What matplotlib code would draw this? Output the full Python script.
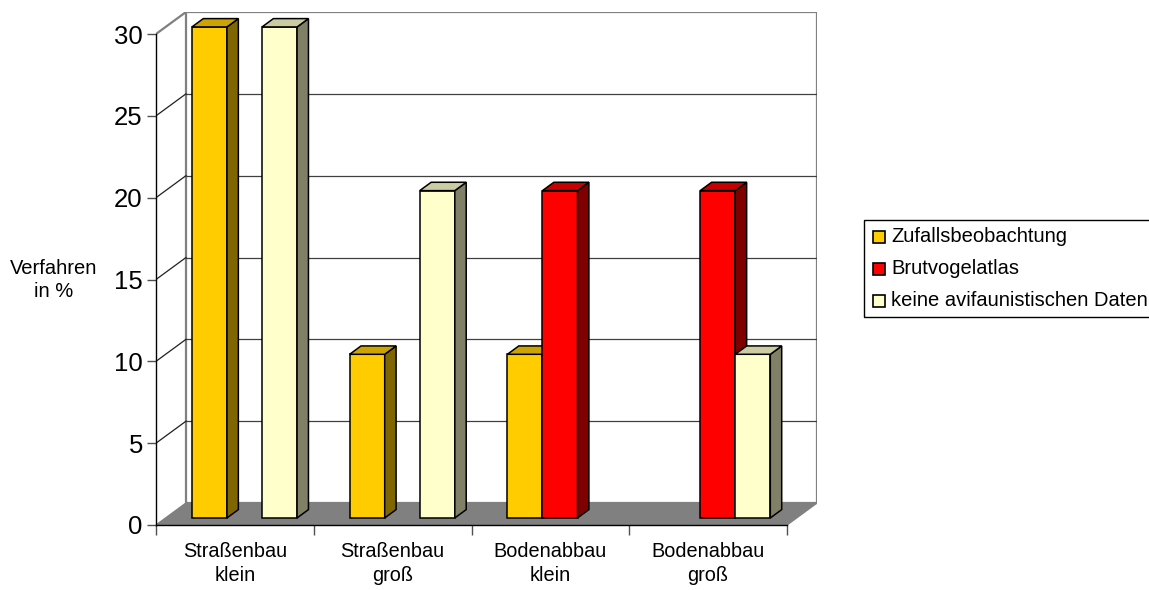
import matplotlib
matplotlib.use("Agg")
import matplotlib.pyplot as plt
from matplotlib.patches import Polygon, Rectangle

plt.rcParams['font.family'] = ['Liberation Sans', 'DejaVu Sans']

categories = ["Straßenbau\nklein", "Straßenbau\ngroß", "Bodenabbau\nklein", "Bodenabbau\ngroß"]
series_names = ["Zufallsbeobachtung", "Brutvogelatlas", "keine avifaunistischen Daten"]
zufall = [30, 10, 10, 0]
brut = [0, 0, 20, 20]
keine = [30, 20, 0, 10]
series_values = [zufall, brut, keine]
y_ticks = [0, 5, 10, 15, 20, 25, 30]
y_label = "Verfahren\nin %"

front_cols = ["#FFCC00", "#FF0000", "#FFFFCC"]
top_cols = ["#CCA300", "#C80000", "#CCCCA3"]
side_cols = ["#806600", "#800000", "#808066"]

W, H = 1149, 590
fig = plt.figure(figsize=(W / 100, H / 100), dpi=100)

px_left, px_right, px_bottom, px_top = 156, 817, 525, 12
ymax = 30
cat_px = (787 - 156) / 4.0
val_px = (525 - 34) / 30.0
DX = 30 / cat_px
DY = 22 / val_px

ax = fig.add_axes([px_left / W, (H - px_bottom) / H, (px_right - px_left) / W, (px_bottom - px_top) / H])
ax.set_xlim(0, 4 + DX)
ax.set_ylim(0, ymax + DY)
for s in ["top", "right"]:
    ax.spines[s].set_visible(False)
ax.spines["left"].set_bounds(0, ymax)
ax.spines["bottom"].set_bounds(0, 4)
ax.spines["left"].set_linewidth(1.0)
ax.spines["bottom"].set_linewidth(1.0)
ax.patch.set_alpha(0)

grey = "#808080"
ax.add_patch(Polygon([(0, 0), (DX, DY), (DX, ymax + DY), (0, ymax)], closed=True,
                     facecolor="white", edgecolor="none", zorder=0))
ax.add_patch(Rectangle((DX, DY), 4, ymax, facecolor="white", edgecolor=grey, lw=1.6, zorder=0.5))
ax.plot([0, DX], [ymax, ymax + DY], color=grey, lw=1.6, zorder=0.6, solid_capstyle="butt")
for v in y_ticks[1:-1]:
    ax.plot([DX, 4 + DX], [v + DY, v + DY], color="#404040", lw=0.9, zorder=0.7)
    ax.plot([0, DX], [v, v + DY], color="#202020", lw=0.9, zorder=0.7)
ax.add_patch(Polygon([(0, 0), (4, 0), (4 + DX, DY), (DX, DY)], closed=True,
                     facecolor=grey, edgecolor=grey, lw=1.0, zorder=0.8))

w = 1 / 4.5
f0 = 0.32
bd = 0.38
z = 2
for i in range(len(categories)):
    for j, vals in enumerate(series_values):
        v = vals[i]
        if v <= 0:
            continue
        x0 = i + 0.75 * w + j * w + f0 * DX
        yb = f0 * DY
        ddx, ddy = bd * DX, bd * DY
        ax.bar(x0, v, width=w, bottom=yb, align="edge", color=front_cols[j],
               edgecolor="black", lw=1.1, zorder=z)
        ax.add_patch(Polygon([(x0 + w, yb), (x0 + w + ddx, yb + ddy), (x0 + w + ddx, yb + v + ddy), (x0 + w, yb + v)],
                             closed=True, facecolor=side_cols[j], edgecolor="black", lw=1.1, zorder=z + 0.1,
                             joinstyle="miter"))
        ax.add_patch(Polygon([(x0, yb + v), (x0 + w, yb + v), (x0 + w + ddx, yb + v + ddy), (x0 + ddx, yb + v + ddy)],
                             closed=True, facecolor=top_cols[j], edgecolor="black", lw=1.1, zorder=z + 0.2,
                             joinstyle="miter"))
        z += 1

ax.set_yticks(y_ticks)
ax.set_yticklabels([str(t) for t in y_ticks], fontsize=18.5)
ax.tick_params(axis="y", direction="out", length=6.5, width=1.0, color="#505050", pad=3)
ax.set_xticks(range(5))
ax.set_xticklabels([""] * 5)
ax.tick_params(axis="x", which="major", direction="out", length=7, width=1.0, color="#505050")
ax.set_xticks([i + 0.5 for i in range(4)], minor=True)
ax.set_xticklabels(categories, minor=True, fontsize=14.3)
ax.tick_params(axis="x", which="minor", length=0, pad=12)
for lbl in ax.get_xticklabels(minor=True):
    lbl.set_linespacing(1.35)

ov = fig.add_axes([0, 0, 1, 1])
ov.set_xlim(0, W)
ov.set_ylim(H, 0)
ov.axis("off")
ov.patch.set_alpha(0)
ov.text(54, 280, y_label, ha="center", va="center", fontsize=14.5, linespacing=1.3)

ov.add_patch(Rectangle((864, 220), 400, 97, facecolor="white", edgecolor="black", lw=1.0, clip_on=False))
rows = [237, 269, 301]
for j, name in enumerate(series_names):
    ov.add_patch(Rectangle((873, rows[j] - 6), 12, 12, facecolor=front_cols[j], edgecolor="black", lw=1.2))
    ov.text(891, rows[j], name, ha="left", va="center", fontsize=14.5)

fig.savefig("out.png", dpi=100)
